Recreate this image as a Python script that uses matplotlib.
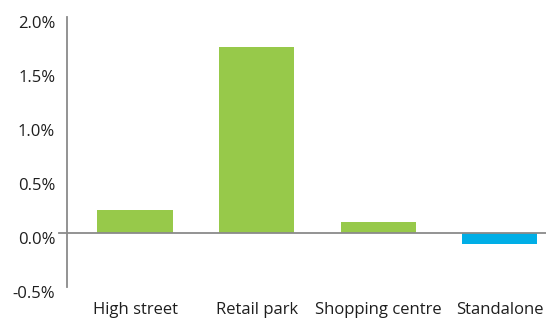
import numpy as np
import matplotlib
matplotlib.use("Agg")
import matplotlib.pyplot as plt
import matplotlib.transforms as mtransforms
from matplotlib.ticker import FuncFormatter

plt.rcParams['font.family'] = ['Open Sans', 'DejaVu Sans']

# retail property total return by segment, %
segments = ['High street', 'Retail park', 'Shopping centre', 'Standalone']
returns = [0.21, 1.72, 0.10, -0.10]
yticks = [-0.5, 0.0, 0.5, 1.0, 1.5, 2.0]

green = '#97c94a'
blue = '#00aee6'
grey = '#8a8a8a'
text_col = '#1e1e1e'

fig = plt.figure(figsize=(5.46, 3.2), dpi=100)
ax = fig.add_axes([0.1227, 0.104, 0.8773, 0.842])

x = np.arange(len(segments))
colors = [green if v >= 0 else blue for v in returns]
ax.bar(x, returns, width=0.62, color=colors, zorder=2)

ax.set_xlim(-0.56, 3.38)
ax.set_ylim(-0.5, 2.0)
ax.set_yticks(yticks)
ax.yaxis.set_major_formatter(FuncFormatter(lambda v, p: '%.1f%%' % v))
ax.set_xticks(x)
ax.set_xticklabels(segments)

ax.axhline(0, xmin=-8 / 479, xmax=1, color=grey, lw=1.3, clip_on=False, zorder=3)

for s in ['top', 'right', 'bottom']:
    ax.spines[s].set_visible(False)
ax.spines['left'].set_color(grey)
ax.spines['left'].set_linewidth(1.3)

ax.tick_params(axis='y', length=0, pad=8.5, labelsize=12, labelcolor=text_col)
ax.tick_params(axis='x', length=0, pad=11, labelsize=12, labelcolor=text_col)

# y labels sit a little below their gridline
shift = mtransforms.ScaledTranslation(0, -5 / 100, fig.dpi_scale_trans)
for lab in ax.get_yticklabels():
    lab.set_transform(lab.get_transform() + shift)

fig.savefig('out.png', dpi=100)
